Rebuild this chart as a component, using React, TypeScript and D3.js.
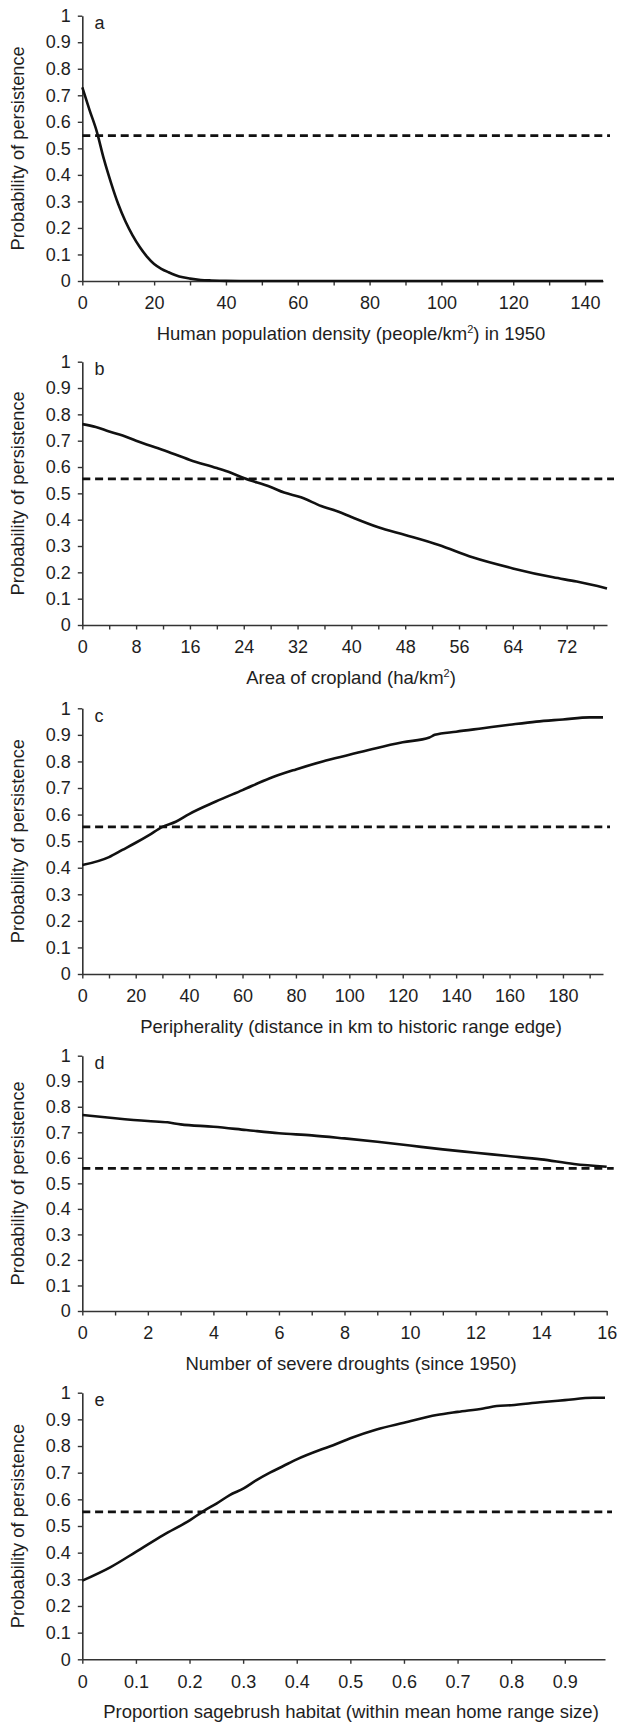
import React, { useEffect, useRef } from "react";
import * as d3 from "d3";

// ---- Data ----
const aX = [0, 2, 4, 6, 8, 10, 12, 14, 16, 18, 20, 22, 24, 26, 28, 30, 33, 36, 40, 50, 145];
const aY = [0.73, 0.645, 0.565, 0.46, 0.37, 0.29, 0.225, 0.172, 0.128, 0.092, 0.064, 0.046, 0.033, 0.022, 0.014, 0.009, 0.004, 0.002, 0.0005, 0, 0];

const bX = [0, 2, 4, 6, 8, 12, 16, 20, 22, 24, 28, 30, 32.5, 35.5, 38, 40, 44, 48, 53, 58, 64, 70, 73.5, 78];
const bY = [0.763, 0.752, 0.735, 0.72, 0.7, 0.665, 0.627, 0.596, 0.579, 0.558, 0.524, 0.503, 0.485, 0.452, 0.431, 0.41, 0.371, 0.342, 0.304, 0.257, 0.215, 0.181, 0.165, 0.139];

const cX = [0, 10, 15, 20, 25, 30, 35, 40, 50, 60, 70, 80, 90, 100, 110, 120, 130, 132, 140, 150, 160, 170, 180, 190, 195];
const cY = [0.41, 0.44, 0.467, 0.494, 0.523, 0.554, 0.573, 0.602, 0.649, 0.692, 0.736, 0.77, 0.8, 0.825, 0.85, 0.872, 0.89, 0.9, 0.912, 0.925, 0.938, 0.95, 0.958, 0.966, 0.966];

const dX = [0, 1, 2, 2.6, 3, 4, 5, 6, 7, 8, 9, 10, 11, 12, 13, 14, 15, 16];
const dY = [0.768, 0.755, 0.744, 0.739, 0.731, 0.722, 0.709, 0.696, 0.688, 0.676, 0.663, 0.648, 0.633, 0.62, 0.607, 0.594, 0.576, 0.565];

const eX = [0, 0.052, 0.1, 0.151, 0.201, 0.226, 0.251, 0.275, 0.301, 0.325, 0.35, 0.375, 0.4, 0.443, 0.468, 0.5, 0.549, 0.6, 0.661, 0.7, 0.748, 0.773, 0.8, 0.854, 0.9, 0.953, 0.975];
const eY = [0.295, 0.345, 0.403, 0.466, 0.522, 0.556, 0.585, 0.616, 0.641, 0.672, 0.7, 0.725, 0.75, 0.785, 0.803, 0.829, 0.862, 0.887, 0.916, 0.928, 0.941, 0.95, 0.953, 0.964, 0.972, 0.981, 0.981];

const thresholds = [0.548, 0.555, 0.554, 0.559, 0.553];
const panelLetters = ["a", "b", "c", "d", "e"];
const xDomainMax = [145, 78, 195, 16, 0.975];
const xTickStep = [10, 4, 10, 1, 0.1];
const xLabelStep = [20, 8, 20, 2, 0.1];
const yTicks = [0, 0.1, 0.2, 0.3, 0.4, 0.5, 0.6, 0.7, 0.8, 0.9, 1];
const yLabel = "Probability of persistence";
const xLabels: [string, string | null, string][] = [
  ["Human population density (people/km", "2", ") in 1950"],
  ["Area of cropland (ha/km", "2", ")"],
  ["Peripherality (distance in km to historic range edge)", null, ""],
  ["Number of severe droughts (since 1950)", null, ""],
  ["Proportion sagebrush habitat (within mean home range size)", null, ""],
];
const seriesX = [aX, bX, cX, dX, eX];
const seriesY = [aY, bY, cY, dY, eY];

// ---- Layout ----
const W = 619;
const H = 1723;
const X0 = 82.3;
const layout = [
  { top: 15.7, bottom: 281, right: 603 },
  { top: 361.7, bottom: 625, right: 607 },
  { top: 708.3, bottom: 974, right: 603 },
  { top: 1055.7, bottom: 1311, right: 606.7 },
  { top: 1392.7, bottom: 1659.3, right: 605 },
];
const FONT = "'Liberation Sans', Arial, Helvetica, sans-serif";
const TEXT = "#1e1e1e";
const AXIS = "#333";

export default function App() {
  const ref = useRef<SVGSVGElement | null>(null);

  useEffect(() => {
    const svg = d3.select(ref.current);
    svg.selectAll("*").remove();

    layout.forEach((L, i) => {
      const x = d3.scaleLinear().domain([0, xDomainMax[i]]).range([X0, L.right]);
      const y = d3.scaleLinear().domain([0, 1]).range([L.bottom, L.top]);
      const g = svg.append("g");

      const step = xTickStep[i];
      const nT = Math.floor(xDomainMax[i] / step + 1e-6);
      const xt = d3.range(0, nT + 1).map((k) => +(k * step).toFixed(4));
      const lblEvery = Math.round(xLabelStep[i] / step);

      const xAxis = d3
        .axisBottom(x)
        .tickValues(xt)
        .tickSize(4.5)
        .tickSizeOuter(0)
        .tickPadding(11.2)
        .tickFormat((d, k) => (k % lblEvery === 0 ? d3.format("~g")(d as number) : ""));
      const gx = g.append("g").attr("transform", `translate(0,${L.bottom})`).call(xAxis);

      const yAxis = d3
        .axisLeft(y)
        .tickValues(yTicks)
        .tickSize(4.5)
        .tickSizeOuter(0)
        .tickPadding(7.1)
        .tickFormat((d) => d3.format("~g")(d as number));
      const gy = g.append("g").attr("transform", `translate(${X0},0)`).call(yAxis);

      [gx, gy].forEach((ax) => {
        ax.select(".domain").attr("stroke", AXIS).attr("stroke-width", 1.6);
        ax.selectAll(".tick line").attr("stroke", AXIS).attr("stroke-width", 1.4);
        ax.selectAll(".tick text")
          .attr("fill", TEXT)
          .style("font-family", FONT)
          .style("font-size", "18px");
      });

      // threshold dashed line
      g.append("line")
        .attr("x1", X0)
        .attr("x2", L.right + 7)
        .attr("y1", y(thresholds[i]))
        .attr("y2", y(thresholds[i]))
        .attr("stroke", "#111")
        .attr("stroke-width", 2.7)
        .attr("stroke-dasharray", "8 4.8");

      // curve
      const pts = seriesX[i].map((v, k) => [v, seriesY[i][k]] as [number, number]);
      const line = d3
        .line<[number, number]>()
        .x((d) => x(d[0]))
        .y((d) => y(d[1]))
        .curve(d3.curveMonotoneX);
      g.append("path")
        .attr("d", line(pts))
        .attr("fill", "none")
        .attr("stroke", "#111")
        .attr("stroke-width", 2.6)
        .attr("stroke-linejoin", "round");

      // panel letter
      g.append("text")
        .attr("x", 94.5)
        .attr("y", L.top + 13.5)
        .attr("fill", TEXT)
        .style("font-family", FONT)
        .style("font-size", "18px")
        .text(panelLetters[i]);

      // y label
      g.append("text")
        .attr("transform", `translate(24.3,${(L.top + L.bottom) / 2}) rotate(-90)`)
        .attr("text-anchor", "middle")
        .attr("fill", TEXT)
        .style("font-family", FONT)
        .style("font-size", "18.3px")
        .text(yLabel);

      // x label
      const [p1, sup, p2] = xLabels[i];
      const t = g
        .append("text")
        .attr("x", 351)
        .attr("y", L.bottom + 58.5)
        .attr("text-anchor", "middle")
        .attr("fill", TEXT)
        .style("font-family", FONT)
        .style("font-size", "18.5px");
      t.append("tspan").text(p1);
      if (sup) {
        t.append("tspan").attr("dy", -7).style("font-size", "11px").text(sup);
        t.append("tspan").attr("dy", 7).text(p2);
      }
    });
  }, []);

  return (
    <div style={{ position: "absolute", left: 0, top: 0 }}>
      <svg ref={ref} width={W} height={H} style={{ display: "block", background: "#fff" }} />
    </div>
  );
}
